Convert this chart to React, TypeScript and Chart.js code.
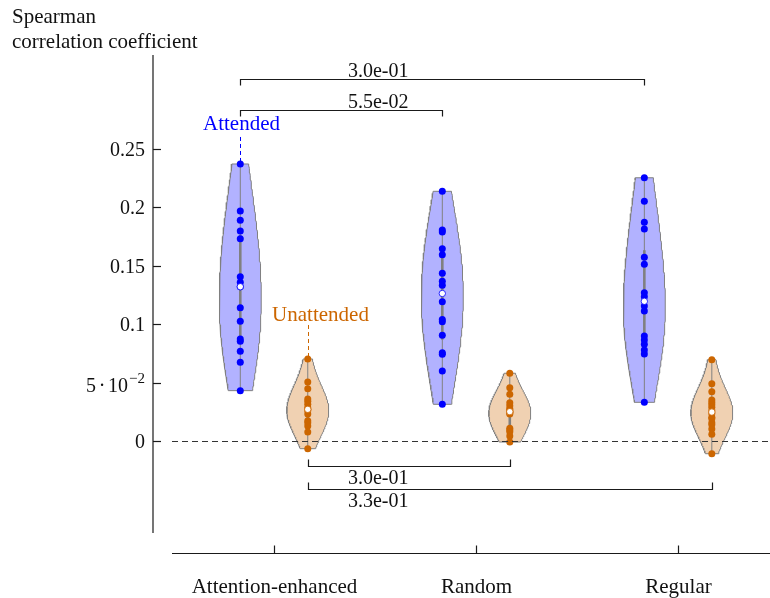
import { useEffect, useRef } from "react";
import { Chart, registerables } from "chart.js";

Chart.register(...registerables);

// Condition groups along the horizontal axis
const groups = ["Attention-enhanced", "Random", "Regular"];

// Spearman correlation per subject, attended stream
const attendedAE = [0.2372, 0.1969, 0.189, 0.1798, 0.1732, 0.1407, 0.1359, 0.1321, 0.1141, 0.1025, 0.0873, 0.0854, 0.0768, 0.0674, 0.0431];
const attendedRandom = [0.2138, 0.1807, 0.1789, 0.1646, 0.1595, 0.1436, 0.1367, 0.1333, 0.1193, 0.104, 0.102, 0.0905, 0.0756, 0.0742, 0.0599, 0.0314];
const attendedRegular = [0.2254, 0.2052, 0.1872, 0.1815, 0.1573, 0.1513, 0.127, 0.1236, 0.1156, 0.1113, 0.0899, 0.0865, 0.0828, 0.0779, 0.0745, 0.0331];

// Spearman correlation per subject, unattended stream
const unattendedAE = [0.0702, 0.0505, 0.0448, 0.036, 0.034, 0.0315, 0.0285, 0.0271, 0.026, 0.0231, 0.0174, 0.0157, 0.0128, 0.0077, -0.0066];
const unattendedRandom = [0.058, 0.0456, 0.04, 0.0328, 0.0302, 0.0275, 0.0265, 0.0255, 0.0247, 0.024, 0.023, 0.0109, 0.0095, 0.008, 0.0043, -0.0009];
const unattendedRegular = [0.0696, 0.0491, 0.0422, 0.0351, 0.033, 0.031, 0.0289, 0.026, 0.0235, 0.0203, 0.019, 0.0157, 0.014, 0.0103, 0.0057, -0.0109];

// Pairwise comparisons (group indices) and their p-values
const attendedPairs = [[0, 2], [0, 1]];
const attendedPValues = ["3.0e-01", "5.5e-02"];
const unattendedPairs = [[0, 1], [0, 2]];
const unattendedPValues = ["3.0e-01", "3.3e-01"];

// Y axis ticks
const yTickValues = [0, 0.05, 0.1, 0.15, 0.2, 0.25];
const yTickLabels = ["0", "5·10^−2", "0.1", "0.15", "0.2", "0.25"];

// ---- styling ----
const BLUE = "#0000ff";
const BLUE_FILL = "#b2b2ff";
const ORANGE = "#cc6600";
const ORANGE_FILL = "#f0d1b2";
const OUTLINE = "#808080";
const SERIF = '"Liberation Serif", "DejaVu Serif", serif';
const HALF_WIDTH = 0.104;
const OFFSET = 0.167;
const BW_ADJUST = 1.6;

function quantile(sorted: number[], q: number) {
  const pos = (sorted.length - 1) * q;
  const lo = Math.floor(pos);
  const hi = Math.ceil(pos);
  return sorted[lo] + (sorted[hi] - sorted[lo]) * (pos - lo);
}

// Gaussian KDE (Scott bandwidth), cut at the data range
function violinOutline(values: number[], center: number) {
  const m = values.length;
  const mean = values.reduce((a, b) => a + b, 0) / m;
  const sd = Math.sqrt(values.reduce((a, b) => a + (b - mean) ** 2, 0) / (m - 1));
  const bw = sd * Math.pow(m, -0.2) * BW_ADJUST;
  const lo = Math.min(...values);
  const hi = Math.max(...values);
  const steps = 100;
  const ys: number[] = [];
  const ds: number[] = [];
  for (let i = 0; i <= steps; i++) {
    const y = lo + ((hi - lo) * i) / steps;
    let d = 0;
    for (const v of values) {
      const z = (y - v) / bw;
      d += Math.exp(-0.5 * z * z);
    }
    ys.push(y);
    ds.push(d);
  }
  const maxD = Math.max(...ds);
  const pts: { x: number; y: number }[] = [];
  for (let i = 0; i <= steps; i++) pts.push({ x: center + (HALF_WIDTH * ds[i]) / maxD, y: ys[i] });
  for (let i = steps; i >= 0; i--) pts.push({ x: center - (HALF_WIDTH * ds[i]) / maxD, y: ys[i] });
  pts.push(pts[0]);
  return pts;
}

function violinDatasets(values: number[], center: number, color: string, fillColor: string) {
  const sorted = [...values].sort((a, b) => a - b);
  const med = quantile(sorted, 0.5);
  const q1 = quantile(sorted, 0.25);
  const q3 = quantile(sorted, 0.75);
  return [
    {
      type: "line" as const,
      data: violinOutline(values, center),
      borderColor: OUTLINE,
      borderWidth: 1,
      backgroundColor: fillColor,
      fill: "shape",
      pointRadius: 0,
      tension: 0,
      order: 5,
    },
    {
      type: "line" as const,
      data: [
        { x: center, y: sorted[0] },
        { x: center, y: sorted[sorted.length - 1] },
      ],
      borderColor: OUTLINE,
      borderWidth: 1,
      pointRadius: 0,
      fill: false,
      order: 4,
    },
    {
      type: "line" as const,
      data: [
        { x: center, y: q1 },
        { x: center, y: q3 },
      ],
      borderColor: OUTLINE,
      borderWidth: 2.6,
      pointRadius: 0,
      fill: false,
      order: 3,
    },
    {
      type: "scatter" as const,
      data: values.map((v) => ({ x: center, y: v })),
      backgroundColor: color,
      borderWidth: 0,
      pointRadius: 3.5,
      order: 2,
    },
    {
      type: "scatter" as const,
      data: [{ x: center, y: med }],
      backgroundColor: "#ffffff",
      borderColor: color,
      borderWidth: 0.8,
      pointRadius: 3.2,
      order: 1,
    },
  ];
}

const overlay = {
  id: "overlay",
  afterDatasetsDraw(chart: any) {
    const { ctx, chartArea } = chart;
    const ys = chart.scales.y;
    ctx.save();
    ctx.strokeStyle = "#333333";
    ctx.lineWidth = 1;
    ctx.setLineDash([6, 4]);
    ctx.beginPath();
    const zy = Math.round(ys.getPixelForValue(0)) + 0.5;
    ctx.moveTo(chartArea.left, zy);
    ctx.lineTo(chartArea.right, zy);
    ctx.stroke();
    ctx.restore();
  },
  afterDraw(chart: any) {
    const { ctx, chartArea } = chart;
    const xs = chart.scales.x;
    const ys = chart.scales.y;
    const X = (v: number) => xs.getPixelForValue(v);
    const Y = (v: number) => ys.getPixelForValue(v);
    ctx.save();
    ctx.setLineDash([]);
    ctx.strokeStyle = "#1a1a1a";
    ctx.fillStyle = "#111";
    ctx.lineWidth = 1.2;

    // y axis line and ticks
    const yAxisX = chartArea.left - 19;
    ctx.beginPath();
    ctx.moveTo(yAxisX, chartArea.top - 2);
    ctx.lineTo(yAxisX, chartArea.bottom);
    ctx.stroke();
    ctx.textAlign = "right";
    ctx.textBaseline = "alphabetic";
    yTickValues.forEach((v, i) => {
      const py = Math.round(Y(v)) + 0.5;
      ctx.beginPath();
      ctx.moveTo(yAxisX, py);
      ctx.lineTo(yAxisX + 8, py);
      ctx.stroke();
      const label = yTickLabels[i];
      const right = yAxisX - 8;
      if (label.includes("^")) {
        // mantissa · base with a raised exponent
        const [base, exp] = label.split("^");
        const [mant, pow] = base.split("·");
        ctx.font = `15px ${SERIF}`;
        const ew = ctx.measureText(exp).width;
        ctx.fillText(exp, right, py - 1);
        ctx.font = `20px ${SERIF}`;
        const powRight = right - ew - 1;
        ctx.fillText(pow, powRight, py + 8);
        const powLeft = powRight - ctx.measureText(pow).width;
        ctx.textAlign = "center";
        ctx.fillText("·", powLeft - 6, py + 8);
        ctx.textAlign = "right";
        ctx.fillText(mant, powLeft - 12, py + 8);
      } else {
        ctx.font = `20px ${SERIF}`;
        ctx.fillText(label, right, py + 6.5);
      }
    });

    // y axis title
    ctx.textAlign = "left";
    ctx.font = `21px ${SERIF}`;
    ctx.fillText("Spearman", 12, 23);
    ctx.fillText("correlation coefficient", 12, 48);

    // x axis line, ticks, category labels
    const xAxisY = chartArea.bottom + 20.5;
    ctx.beginPath();
    ctx.moveTo(chartArea.left, xAxisY);
    ctx.lineTo(chartArea.right, xAxisY);
    ctx.stroke();
    ctx.textAlign = "center";
    groups.forEach((g, i) => {
      const px = Math.round(X(i)) + 0.5;
      ctx.beginPath();
      ctx.moveTo(px, xAxisY);
      ctx.lineTo(px, xAxisY - 8);
      ctx.stroke();
      ctx.font = `21px ${SERIF}`;
      ctx.fillText(g, px, xAxisY + 39);
    });

    // comparison brackets
    const textX = X(0.366);
    const topLevels = [0.31, 0.2834];
    attendedPairs.forEach((p, i) => {
      const y = Math.round(Y(topLevels[i])) + 0.5;
      const x1 = Math.round(X(p[0] - OFFSET)) + 0.5;
      const x2 = Math.round(X(p[1] - OFFSET)) + 0.5;
      ctx.beginPath();
      ctx.moveTo(x1, y + 6);
      ctx.lineTo(x1, y);
      ctx.lineTo(x2, y);
      ctx.lineTo(x2, y + 6);
      ctx.stroke();
      ctx.font = `20px ${SERIF}`;
      ctx.textAlign = "left";
      ctx.fillText(attendedPValues[i], textX, y - 3);
    });
    const bottomLevels = [-0.0211, -0.0414];
    unattendedPairs.forEach((p, i) => {
      const y = Math.round(Y(bottomLevels[i])) + 0.5;
      const x1 = Math.round(X(p[0] + OFFSET)) + 0.5;
      const x2 = Math.round(X(p[1] + OFFSET)) + 0.5;
      ctx.beginPath();
      ctx.moveTo(x1, y - 7);
      ctx.lineTo(x1, y);
      ctx.lineTo(x2, y);
      ctx.lineTo(x2, y - 7);
      ctx.stroke();
      ctx.font = `20px ${SERIF}`;
      ctx.textAlign = "left";
      ctx.fillText(unattendedPValues[i], textX, y + 17);
    });

    // series labels with dashed leaders
    const tag = (text: string, color: string, cx: number, topValue: number, lead: number, dx: number) => {
      const px = Math.round(X(cx)) + 0.5;
      const py = Y(topValue);
      ctx.strokeStyle = color;
      ctx.fillStyle = color;
      ctx.lineWidth = 1;
      ctx.setLineDash([4, 3]);
      ctx.beginPath();
      ctx.moveTo(px, py - 2);
      ctx.lineTo(px, py - lead);
      ctx.stroke();
      ctx.setLineDash([]);
      ctx.font = `21px ${SERIF}`;
      ctx.textAlign = "center";
      ctx.fillText(text, px + dx, py - lead - 4);
    };
    tag("Attended", BLUE, 0 - OFFSET, Math.max(...attendedAE), 30, 1);
    tag("Unattended", ORANGE, 0 + OFFSET, Math.max(...unattendedAE), 34, 12);
    ctx.restore();
  },
};

export default function App() {
  const canvasRef = useRef<HTMLCanvasElement | null>(null);

  useEffect(() => {
    if (!canvasRef.current) return;
    const attended = [attendedAE, attendedRandom, attendedRegular];
    const unattended = [unattendedAE, unattendedRandom, unattendedRegular];
    const datasets: any[] = [];
    attended.forEach((vals, i) => datasets.push(...violinDatasets(vals, i - OFFSET, BLUE, BLUE_FILL)));
    unattended.forEach((vals, i) => datasets.push(...violinDatasets(vals, i + OFFSET, ORANGE, ORANGE_FILL)));

    const chart = new Chart(canvasRef.current, {
      type: "scatter",
      data: { datasets },
      options: {
        animation: false,
        responsive: false,
        devicePixelRatio: 1,
        events: [],
        layout: { autoPadding: false, padding: { left: 172, right: 0, top: 57, bottom: 65 } },
        plugins: { legend: { display: false }, tooltip: { enabled: false } },
        scales: {
          x: { type: "linear", min: -0.505, max: 2.455, display: false },
          y: { type: "linear", min: -0.0788, max: 0.3288, display: false },
        },
      },
      plugins: [overlay],
    } as any);
    return () => chart.destroy();
  }, []);

  return (
    <div style={{ position: "fixed", left: 0, top: 0, width: 770, height: 598, background: "#fff" }}>
      <canvas ref={canvasRef} width={770} height={598} style={{ display: "block" }} />
    </div>
  );
}
